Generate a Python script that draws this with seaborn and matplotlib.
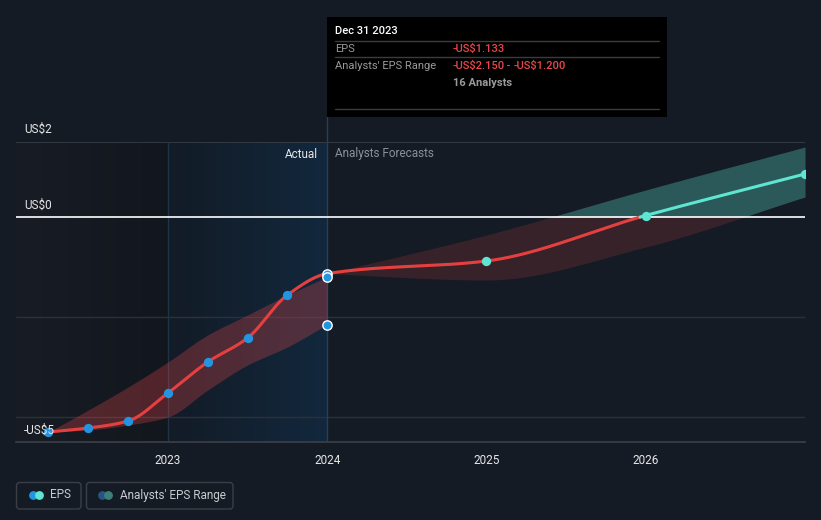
import numpy as np
import pandas as pd
import matplotlib
matplotlib.use("Agg")
import matplotlib.pyplot as plt
import seaborn as sns
from matplotlib.patches import FancyBboxPatch, Rectangle
from matplotlib.colors import LinearSegmentedColormap

# ---------------- data ----------------
past_dates = [2022.25, 2022.5, 2022.75, 2023.0, 2023.25, 2023.5, 2023.75, 2024.0]
past_eps = [-4.30, -4.22, -4.08, -3.52, -2.90, -2.42, -1.56, -1.133]
past_low = [-4.30, -4.26, -4.16, -4.00, -3.46, -2.96, -2.60, -2.15]
past_high = [-4.30, -3.86, -3.40, -2.90, -2.36, -1.96, -1.56, -1.20]

fc_dates = [2024.0, 2025.0, 2026.0, 2027.0]
fc_eps = [-1.133, -0.88, 0.03, 0.86]
fc_low = [-1.133, -1.26, -0.60, 0.40]
fc_high = [-1.133, -0.36, 0.54, 1.40]

xtick_years = [2023, 2024, 2025, 2026]
xtick_labels = ["2023", "2024", "2025", "2026"]

# ---------------- style ----------------
BG = "#151b24"
RED = "#e5403f"
TEAL = "#5ee6d2"
BLUE = "#2394df"
GRID = "#2c3139"

sns.set_theme(style="dark")
plt.rcParams["font.family"] = ["Roboto", "DejaVu Sans"]


def monotone(x, y, n=500):
    x = np.asarray(x, float)
    y = np.asarray(y, float)
    h = np.diff(x)
    d = np.diff(y) / h
    m = np.zeros_like(y)
    m[0], m[-1] = d[0], d[-1]
    for i in range(1, len(y) - 1):
        if d[i - 1] * d[i] <= 0:
            m[i] = 0.0
        else:
            m[i] = 3 * (h[i - 1] + h[i]) / ((2 * h[i] + h[i - 1]) / d[i - 1] + (h[i] + 2 * h[i - 1]) / d[i])
    xs = np.linspace(x[0], x[-1], n)
    idx = np.clip(np.searchsorted(x, xs, side="right") - 1, 0, len(x) - 2)
    t = (xs - x[idx]) / h[idx]
    h00 = 2 * t**3 - 3 * t**2 + 1
    h10 = t**3 - 2 * t**2 + t
    h01 = -2 * t**3 + 3 * t**2
    h11 = t**3 - t**2
    ys = h00 * y[idx] + h10 * h[idx] * m[idx] + h01 * y[idx + 1] + h11 * h[idx] * m[idx + 1]
    return xs, ys


W, H = 821, 520
fig = plt.figure(figsize=(W / 100, H / 100), dpi=100, facecolor=BG)
L, R, T, B = 16, 805, 142, 442
ax = fig.add_axes([L / W, 1 - B / H, (R - L) / W, (B - T) / H])
ax.set_facecolor(BG)

x0 = 2023 - (168 - L) / 159.33
x1 = 2027.0
y0, y1 = -4.5, 1.5

# background regions
grad = np.linspace(0, 1, 256).reshape(1, -1)
cm_left = LinearSegmentedColormap.from_list("l", ["#181c24", "#12161d"])
cm_act = LinearSegmentedColormap.from_list("a", ["#121b26", "#13283d"])
ax.imshow(grad, extent=[x0, 2023, y0, y1], aspect="auto", cmap=cm_left, zorder=0)
ax.imshow(grad, extent=[2023, 2024, y0, y1], aspect="auto", cmap=cm_act, zorder=0)
ax.set_xlim(x0, x1)
ax.set_ylim(y0, y1)

# grid lines
for gy in [-2.0, -4.0]:
    ax.axhline(gy, color=GRID, lw=1, zorder=1)
ax.axhline(y1, color="#3a3f47", lw=1.2, zorder=1)
ax.axhline(0, color="white", lw=1.2, zorder=3)
ax.axvline(2023, color="#1e3348", lw=1, zorder=1)
ax.axvline(2024, color="#24405a", lw=1, zorder=1)

# bands
px, plo = monotone(past_dates, past_low)
_, phi = monotone(past_dates, past_high)
ax.fill_between(px, plo, phi, color="#e0474a", alpha=0.30, lw=0, zorder=2)

fx, flo = monotone(fc_dates, fc_low)
_, fhi = monotone(fc_dates, fc_high)
ax.fill_between(fx, np.minimum(flo, 0), np.minimum(fhi, 0), color="#e0474a", alpha=0.17, lw=0, zorder=2)
ax.fill_between(fx, np.maximum(flo, 0), np.maximum(fhi, 0), color=TEAL, alpha=0.30, lw=0, zorder=2)

# EPS line (smoothed through all points), coloured by sign
all_dates = past_dates + fc_dates[1:]
all_eps = past_eps + fc_eps[1:]
lx, ly = monotone(all_dates, all_eps, n=1500)
neg = ly <= 0
neg_ext = neg | np.roll(neg, 1)
pos_ext = (~neg) | np.roll(~neg, -1)
neg_df = pd.DataFrame({"date": lx[neg_ext], "eps": ly[neg_ext]})
pos_df = pd.DataFrame({"date": lx[pos_ext], "eps": ly[pos_ext]})
sns.lineplot(data=neg_df, x="date", y="eps", color=RED, lw=2.2, ax=ax, zorder=4,
             estimator=None, sort=False)
sns.lineplot(data=pos_df, x="date", y="eps", color=TEAL, lw=2.2, ax=ax, zorder=4,
             estimator=None, sort=False)

# points
pts_past = pd.DataFrame({"date": past_dates[:-1], "eps": past_eps[:-1]})
sns.scatterplot(data=pts_past, x="date", y="eps", color=BLUE, s=45, linewidth=0, ax=ax, zorder=5)
pts_2024 = pd.DataFrame({"date": [2024.0, 2024.0, 2024.0], "eps": [past_eps[-1], past_high[-1], past_low[-1]]})
sns.scatterplot(data=pts_2024, x="date", y="eps", color=BLUE, s=45, edgecolor="white", linewidth=1.0, ax=ax, zorder=6)
pts_fc = pd.DataFrame({"date": fc_dates[1:], "eps": fc_eps[1:]})
sns.scatterplot(data=pts_fc, x="date", y="eps", color=TEAL, s=45, linewidth=0, ax=ax, zorder=5)

# axes styling
for s in ax.spines.values():
    s.set_visible(False)
ax.set_yticks([])
ax.set_xticks(xtick_years)
ax.set_xticklabels(xtick_labels, color="#e6e6e6", fontsize=8.5)
ax.tick_params(axis="x", length=4, color="#3a3f47", pad=5, width=1)
ax.set_xlabel("")
ax.set_ylabel("")
ax.spines["bottom"].set_visible(True)
ax.spines["bottom"].set_color("#3a3f47")
ax.grid(False)
ax.set_xlim(x0, x1)
ax.set_ylim(y0, y1)

# ---------------- overlay (pixel coords) ----------------
ov = fig.add_axes([0, 0, 1, 1], facecolor="none")
ov.set_xlim(0, W)
ov.set_ylim(H, 0)
ov.axis("off")

# y labels
for txt, yy in [("US$2", 129), ("US$0", 205), ("-US$5", 430)]:
    ov.text(24, yy, txt, color="#e6e6e6", fontsize=8.5, va="center", ha="left", zorder=3)

ov.text(318, 154, "Actual", color="#e6e6e6", fontsize=8.5, va="center", ha="right")
ov.text(335, 154, "Analysts Forecasts", color="#8b9098", fontsize=8.5, va="center", ha="left")

# vertical marker line above plot
ov.plot([327, 327], [117, 142], color="#24405a", lw=1)

# tooltip
TF = 8.0
ov.add_patch(Rectangle((327, 17), 340, 100, facecolor="black", edgecolor="none", zorder=5))
ov.text(335, 31, "Dec 31 2023", color="white", fontsize=TF, fontweight="medium", va="center", zorder=6)
for yy in [41, 57, 109]:
    ov.plot([335, 659], [yy, yy], color="#3c3c3c", lw=1, zorder=6)
ov.text(335, 49, "EPS", color="#9a9a9a", fontsize=TF, va="center", zorder=6)
ov.text(453, 49, "-US$1.133", color="#e8474b", fontsize=TF, fontweight="medium", va="center", zorder=6)
ov.text(335, 66, "Analysts' EPS Range", color="#9a9a9a", fontsize=TF, va="center", zorder=6)
ov.text(453, 66, "-US$2.150", color="#e8474b", fontsize=TF, fontweight="medium", va="center", zorder=6)
ov.text(506.5, 66, "-", color="#9a9a9a", fontsize=TF, va="center", zorder=6)
ov.text(514, 66, "-US$1.200", color="#e8474b", fontsize=TF, fontweight="medium", va="center", zorder=6)
ov.text(453, 83, "16 Analysts", color="#9a9a9a", fontsize=TF, fontweight="bold", va="center", zorder=6)

# legend
ov.add_patch(FancyBboxPatch((16.5, 482.5), 64.5, 26.5, boxstyle="round,pad=0,rounding_size=3",
                            facecolor="none", edgecolor="#3a3f47", lw=1))
ov.add_patch(FancyBboxPatch((86.5, 482.5), 146.5, 26.5, boxstyle="round,pad=0,rounding_size=3",
                            facecolor="none", edgecolor="#3a3f47", lw=1))
ov.scatter([33], [494.5], s=40, color=BLUE, linewidths=0, zorder=3)
ov.scatter([38.5], [494.5], s=40, color=TEAL, linewidths=0, zorder=4)
ov.text(50, 495, "EPS", color="#c8cbd0", fontsize=8.5, va="center")
ov.scatter([101.5], [494.5], s=40, color="#24577f", linewidths=0, zorder=3)
ov.scatter([107.5], [494.5], s=40, color="#3d7e79", linewidths=0, zorder=4)
ov.text(120, 495, "Analysts' EPS Range", color="#c8cbd0", fontsize=8.5, va="center")

fig.savefig("out.png", dpi=100, facecolor=BG)
